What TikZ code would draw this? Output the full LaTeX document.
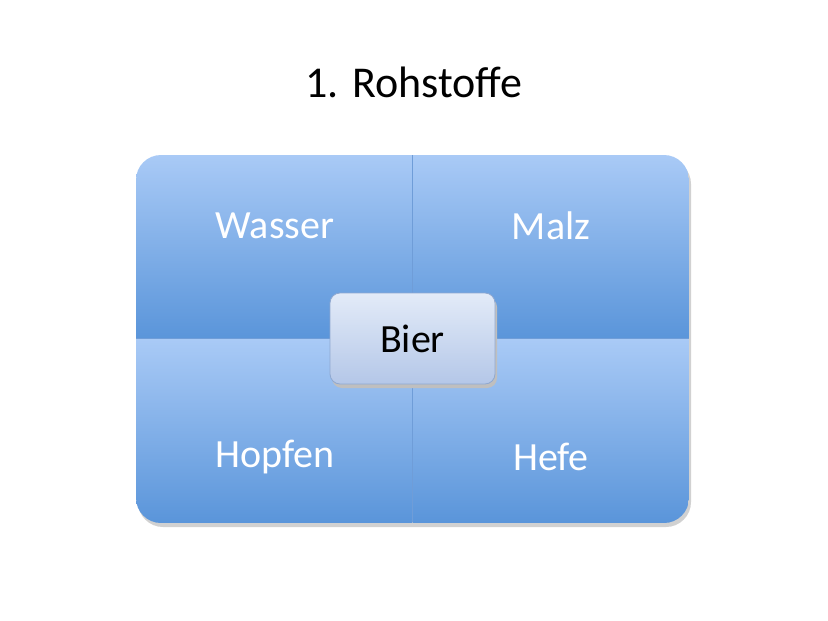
\documentclass[tikz,border=0pt]{standalone}
\usepackage{fontspec}
\setmainfont{Carlito}
\definecolor{qtop}{HTML}{A9CAF6}
\definecolor{qbot}{HTML}{5A95DA}
\definecolor{btop}{HTML}{E3EBF8}
\definecolor{bbot}{HTML}{B4C7E8}
\definecolor{bline}{HTML}{8FA8D0}
\definecolor{sepline}{HTML}{6F9DD8}
\tikzset{
 quad/.style={rectangle, minimum width=276pt, minimum height=183pt, inner sep=0pt,
   top color=qtop, bottom color=qbot, text=white, font=\fontsize{40}{40}\selectfont},
 bierbox/.style={rectangle, rounded corners=10pt, minimum width=165pt, minimum height=91pt,
   top color=btop, bottom color=bbot, draw=bline, line width=0.8pt, font=\fontsize{40}{40}\selectfont},
}
\begin{document}
\begin{tikzpicture}[x=1pt,y=-1pt]
\useasboundingbox (0,0) rectangle (828,621);
\fill[white] (0,0) rectangle (828,621);
\node[font=\fontsize{44}{44}\selectfont] (title) at (414,82) {1. Rohstoffe};
\fill[black!18, rounded corners=25pt] (138,159) rectangle (691,527);
\begin{scope}
\clip[rounded corners=25pt] (136,155) rectangle (689,523);
\node[quad] (wasser) at (274,246.5) {};
\node[quad] (malz) at (550.5,246.5) {};
\node[quad] (hopfen) at (274,430.5) {};
\node[quad] (hefe) at (550.5,430.5) {};
\draw[sepline, line width=0.8pt] (wasser.north east) -- (hopfen.south east);
\draw[sepline, line width=0.8pt] (wasser.south west) -- (malz.south east);
\end{scope}
\node[text=white, font=\fontsize{40}{40}\selectfont] at (275,226) {Wasser};
\node[text=white, font=\fontsize{40}{40}\selectfont] at (551,226) {Malz};
\node[text=white, font=\fontsize{40}{40}\selectfont] at (275,457) {Hopfen};
\node[text=white, font=\fontsize{40}{40}\selectfont] at (551,457) {Hefe};
\fill[black!25, rounded corners=10pt] (332,297) rectangle (497,388);
\node[bierbox] (bier) at (412.5,338.5) {Bier};
\end{tikzpicture}
\end{document}
